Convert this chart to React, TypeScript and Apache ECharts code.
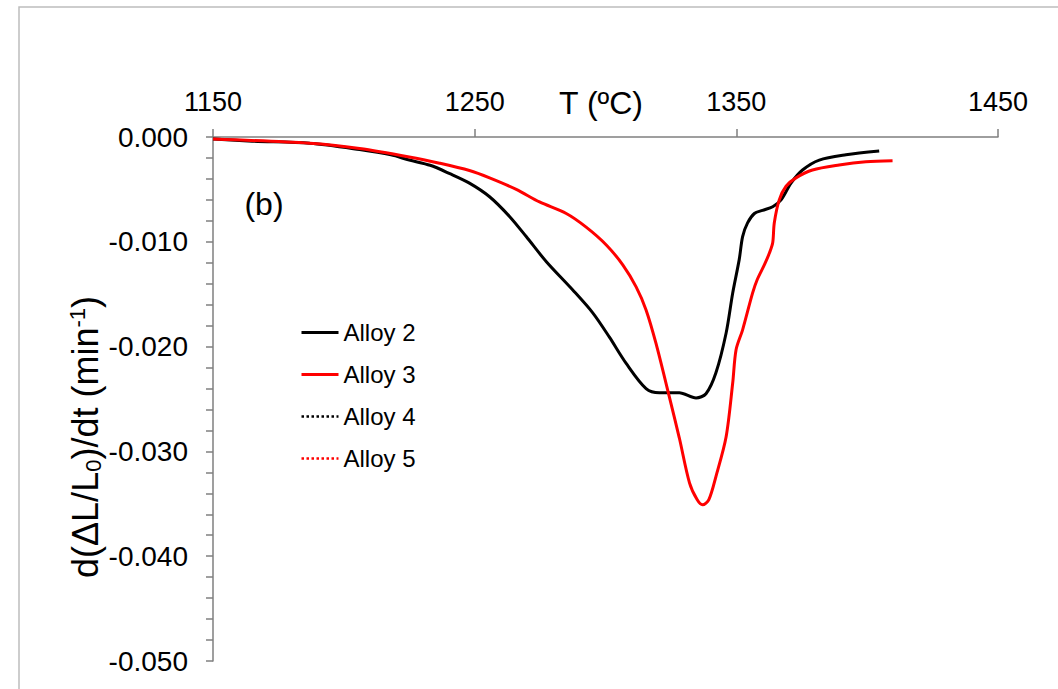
import React, { useEffect, useRef } from "react";
import * as echarts from "echarts";

// Temperature axis ticks (ºC)
const xTicks = [1150, 1250, 1350, 1450];

// Alloy 2 (black, solid)
const alloy2T = [1150, 1165, 1187, 1206, 1218, 1225, 1233, 1240.5, 1248, 1255.7, 1263.4, 1269.7, 1277.4, 1287.5, 1295.2, 1301.5, 1307.9, 1315.5, 1320.6, 1328.2, 1334.6, 1338.4, 1342.2, 1346.1, 1348.6, 1351.1, 1352.4, 1354.3, 1356.9, 1360, 1363.9, 1367.1, 1370.9, 1375.3, 1381.7, 1391.9, 1404.6];
const alloy2V = [-0.0002, -0.0004, -0.0006, -0.0012, -0.0017, -0.0022, -0.0027, -0.0035, -0.0044, -0.0057, -0.0076, -0.0095, -0.0119, -0.0146, -0.0168, -0.0191, -0.0216, -0.024, -0.0244, -0.0244, -0.0249, -0.0245, -0.0225, -0.0187, -0.0149, -0.0117, -0.0095, -0.0082, -0.0073, -0.007, -0.00665, -0.006, -0.0044, -0.00315, -0.0022, -0.0017, -0.00134];

// Alloy 3 (red, solid)
const alloy3T = [1150, 1187, 1206, 1225, 1236.6, 1248, 1255.7, 1265.9, 1274.8, 1285, 1292.6, 1300.3, 1306.6, 1311.7, 1315.5, 1319.3, 1324.4, 1328.2, 1332.1, 1335, 1337.1, 1339.5, 1342.2, 1346.1, 1348.6, 1349.9, 1352.4, 1356.2, 1358, 1360.7, 1362.6, 1363.9, 1364.5, 1366.4, 1369, 1372.8, 1379.1, 1389.3, 1399.5, 1409.7];
const alloy3V = [-0.0002, -0.0006, -0.0011, -0.0019, -0.0025, -0.0032, -0.0039, -0.0050, -0.0062, -0.0073, -0.0086, -0.0103, -0.0122, -0.0143, -0.0165, -0.0197, -0.0248, -0.0287, -0.033, -0.0346, -0.0351, -0.0346, -0.0324, -0.0286, -0.0235, -0.0203, -0.0184, -0.0149, -0.0136, -0.0122, -0.0111, -0.0101, -0.0082, -0.006, -0.0047, -0.0039, -0.00315, -0.00267, -0.00236, -0.00226];

// Alloy 4 and 5 (dotted) – no visible trace in the figure
const alloy4T: number[] = [];
const alloy4V: number[] = [];
const alloy5T: number[] = [];
const alloy5V: number[] = [];

const seriesNames = ["Alloy 2", "Alloy 3", "Alloy 4", "Alloy 5"];

const X0 = xTicks[0];
const toPairs = (t: number[], v: number[]) => t.map((x, i) => [x - X0, v[i]]);

const FONT = "'Liberation Sans', Arial, sans-serif";

export default function App() {
  const ref = useRef<HTMLDivElement>(null);
  useEffect(() => {
    if (!ref.current) return;
    const chart = echarts.init(ref.current, undefined, { renderer: "svg" });
    chart.setOption({
      animation: false,
      backgroundColor: "#ffffff",
      grid: { left: 213, top: 137, right: 60, bottom: 28, containLabel: false },
      xAxis: {
        type: "value",
        position: "top",
        min: 0,
        max: xTicks[xTicks.length - 1] - X0,
        interval: xTicks[1] - xTicks[0],
        axisLine: { show: true, onZero: false, lineStyle: { color: "#7f7f7f", width: 1.5 } },
        axisTick: { show: true, inside: false, length: 8, lineStyle: { color: "#7f7f7f", width: 1.5 } },
        axisLabel: {
          margin: 22,
          fontSize: 27,
          fontFamily: FONT,
          color: "#000",
          formatter: (v: number) => String(v + X0),
        },
        splitLine: { show: false },
      },
      yAxis: {
        type: "value",
        min: -0.05,
        max: 0,
        interval: 0.01,
        axisLine: { show: true, onZero: false, lineStyle: { color: "#7f7f7f", width: 1.5 } },
        axisTick: { show: true, inside: false, length: 7, lineStyle: { color: "#7f7f7f", width: 1.5 } },
        minorTick: { show: true, splitNumber: 5, length: 7, lineStyle: { color: "#7f7f7f", width: 1.5 } },
        axisLabel: {
          margin: 25,
          fontSize: 28,
          fontFamily: FONT,
          color: "#000",
          formatter: (v: number) => (Math.abs(v) < 1e-9 ? 0 : v).toFixed(3),
        },
        splitLine: { show: false },
      },
      legend: {
        orient: "vertical",
        left: 295,
        top: 315,
        itemWidth: 37,
        itemHeight: 3,
        itemGap: 17,
        itemStyle: { opacity: 0 },
        textStyle: { fontSize: 24, fontFamily: FONT, color: "#000", lineHeight: 25 },
        data: [
          { name: seriesNames[0], lineStyle: { width: 3 } },
          { name: seriesNames[1], lineStyle: { width: 3 } },
          { name: seriesNames[2], lineStyle: { width: 2.5 } },
          { name: seriesNames[3], lineStyle: { width: 2.5 } },
        ],
      },
      series: [
        {
          name: seriesNames[0],
          type: "line",
          data: toPairs(alloy2T, alloy2V),
          showSymbol: false,
          symbol: "none",
          smooth: 0.3,
          lineStyle: { color: "#000000", width: 3 },
          itemStyle: { color: "#000000" },
        },
        {
          name: seriesNames[1],
          type: "line",
          data: toPairs(alloy3T, alloy3V),
          showSymbol: false,
          symbol: "none",
          smooth: 0.3,
          lineStyle: { color: "#ff0000", width: 3 },
          itemStyle: { color: "#ff0000" },
        },
        {
          name: seriesNames[2],
          type: "line",
          data: toPairs(alloy4T, alloy4V),
          showSymbol: false,
          symbol: "none",
          lineStyle: { color: "#000000", width: 2.5, type: "dotted" },
          itemStyle: { color: "#000000" },
        },
        {
          name: seriesNames[3],
          type: "line",
          data: toPairs(alloy5T, alloy5V),
          showSymbol: false,
          symbol: "none",
          lineStyle: { color: "#ff0000", width: 2.5, type: "dotted" },
          itemStyle: { color: "#ff0000" },
        },
      ],
      graphic: [
        {
          type: "rect",
          z: -1,
          silent: true,
          shape: { x: 19, y: 7, width: 1200, height: 900 },
          style: { fill: "none", stroke: "#bdbdbd", lineWidth: 1.5 },
        },
        {
          type: "text",
          x: 601,
          y: 103,
          style: {
            text: "T (ºC)",
            fontSize: 32,
            fontFamily: FONT,
            fill: "#000",
            align: "center",
            verticalAlign: "middle",
          },
        },
        {
          type: "text",
          x: 264,
          y: 204,
          style: {
            text: "(b)",
            fontSize: 32,
            fontFamily: FONT,
            fill: "#000",
            align: "center",
            verticalAlign: "middle",
          },
        },
        {
          type: "text",
          x: 85,
          y: 437,
          rotation: Math.PI / 2,
          style: {
            text: "d(ΔL/L{sub|0})/dt (min{sup|-1})",
            fontSize: 36,
            fontFamily: FONT,
            fill: "#000",
            align: "center",
            verticalAlign: "middle",
            rich: {
              sub: { fontSize: 22, fontFamily: FONT, fill: "#000", padding: [16, 0, 0, 0] },
              sup: { fontSize: 22, fontFamily: FONT, fill: "#000", padding: [0, 0, 16, 0] },
            },
          },
        },
      ],
    });
    return () => chart.dispose();
  }, []);
  return (
    <div
      ref={ref}
      style={{ position: "absolute", left: 0, top: 0, width: 1058, height: 689 }}
    />
  );
}
